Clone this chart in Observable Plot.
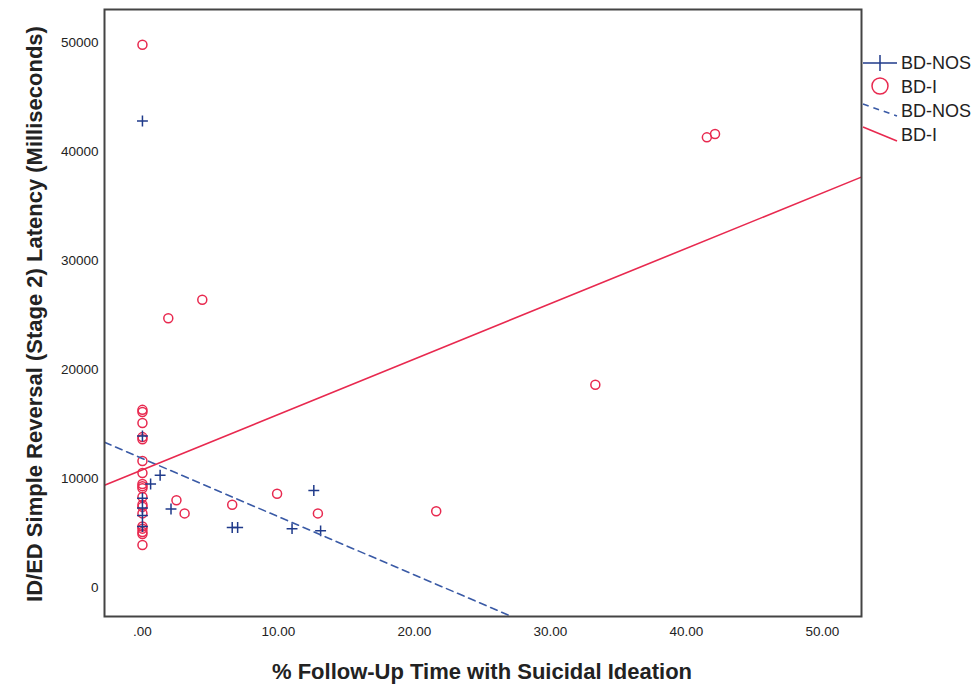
<!DOCTYPE html>
<html><head><meta charset="utf-8">
<script src="https://cdn.jsdelivr.net/npm/d3@7"></script>
<script src="https://cdn.jsdelivr.net/npm/@observablehq/plot@0.6"></script>
<style>body{margin:0;background:#fff;font-family:"Liberation Sans",Arial,sans-serif}</style>
</head><body><div id="chart"></div>
<script>
const groups = ["BD-NOS", "BD-I"];
const nosX = [0, 12.6, 1.3, 0.6, 2.1, 6.6, 7.0, 11.0, 13.1, 0, 0, 0, 0, 0];
const nosY = [42800, 8900, 10300, 9500, 7200, 5500, 5500, 5400, 5200, 13900, 8200, 7300, 6600, 5600];
const bdiX = [0, 41.5, 42.1, 33.3, 4.4, 1.9, 21.6, 9.9, 12.9, 6.6, 2.5, 3.1,
  0, 0, 0, 0, 0, 0, 0, 0, 0, 0, 0, 0, 0, 0, 0, 0, 0, 0, 0];
const bdiY = [49800, 41300, 41600, 18600, 26400, 24700, 7000, 8600, 6800, 7600, 8000, 6800,
  16300, 16100, 15100, 13800, 13600, 11600, 10500, 9500, 9300, 9100, 8300, 7600, 7400, 6800, 5600, 5400, 5100, 4900, 3900];
const fitIntercept = [11835, 10800];
const fitSlope = [-534, 508];
const xTicks = [0, 10, 20, 30, 40, 50];
const xTickLabels = [".00", "10.00", "20.00", "30.00", "40.00", "50.00"];
const yTicks = [0, 10000, 20000, 30000, 40000, 50000];
const xTitle = "% Follow-Up Time with Suicidal Ideation";
const yTitle = "ID/ED Simple Reversal (Stage 2) Latency (Milliseconds)";

const colNos = "#1f3a8a", colNosLine = "#3a5aa6", colBdi = "#e8294f";
const xDomain = [-2.79, 52.87];
const yDomain = [-2660, 53030];

const nos = nosX.map((x, i) => ({x, y: nosY[i]}));
const bdi = bdiX.map((x, i) => ({x, y: bdiY[i]}));
const fitLine = k => xDomain.map(x => ({x, y: fitIntercept[k] + fitSlope[k] * x}));

const font = '"Liberation Sans", Arial, sans-serif';
const chart = Plot.plot({
  width: 979, height: 688,
  marginLeft: 104, marginRight: 118, marginTop: 9, marginBottom: 72,
  style: {fontFamily: font, fontSize: "13.5px", color: "#222", background: "#fff"},
  x: {domain: xDomain},
  y: {domain: yDomain},
  marks: [
    Plot.axisX(xTicks, {tickSize: 0, tickPadding: 10, label: null, tickFormat: d => xTickLabels[xTicks.indexOf(d)]}),
    Plot.axisY(yTicks, {tickSize: 0, tickPadding: 6, label: null, tickFormat: d => String(d)}),
    Plot.dot(bdi, {x: "x", y: "y", r: 4.5, stroke: colBdi, strokeWidth: 1.5, fill: "none"}),
    Plot.dot(nos, {x: "x", y: "y", symbol: "plus", r: 3.6, stroke: colNos, strokeWidth: 1.5}),
    Plot.line(fitLine(0), {x: "x", y: "y", stroke: colNosLine, strokeWidth: 1.6, strokeDasharray: "7,5", clip: true}),
    Plot.line(fitLine(1), {x: "x", y: "y", stroke: colBdi, strokeWidth: 1.6, clip: true}),
    Plot.frame({stroke: "#444", strokeWidth: 2})
  ]
});
document.getElementById("chart").appendChild(chart);

const svg = d3.select(chart);
svg.append("text").attr("x", 482).attr("y", 679).attr("text-anchor", "middle")
  .attr("font-family", font).attr("font-size", 22).attr("font-weight", "bold").attr("fill", "#222").text(xTitle);
svg.append("text").attr("transform", "translate(42,314) rotate(-90)").attr("text-anchor", "middle")
  .attr("font-family", font).attr("font-size", 22).attr("font-weight", "bold").attr("fill", "#222").text(yTitle);

const lg = svg.append("g").attr("font-family", font).attr("font-size", 18).attr("fill", "#222").attr("text-anchor", "start");
lg.append("line").attr("x1", 863).attr("x2", 897).attr("y1", 63).attr("y2", 63).attr("stroke", colNos).attr("stroke-width", 1.5);
lg.append("line").attr("x1", 880).attr("x2", 880).attr("y1", 55).attr("y2", 71).attr("stroke", colNos).attr("stroke-width", 1.5);
lg.append("text").attr("x", 901).attr("y", 69).text(groups[0]);
lg.append("circle").attr("cx", 880).attr("cy", 86).attr("r", 8).attr("fill", "none").attr("stroke", colBdi).attr("stroke-width", 1.5);
lg.append("text").attr("x", 901).attr("y", 93).text(groups[1]);
lg.append("line").attr("x1", 863).attr("x2", 897).attr("y1", 104).attr("y2", 116).attr("stroke", colNosLine).attr("stroke-width", 1.6).attr("stroke-dasharray", "6,5");
lg.append("text").attr("x", 901).attr("y", 117).text(groups[0]);
lg.append("line").attr("x1", 863).attr("x2", 897).attr("y1", 127).attr("y2", 141).attr("stroke", colBdi).attr("stroke-width", 1.6);
lg.append("text").attr("x", 901).attr("y", 141).text(groups[1]);
</script>
</body></html>
